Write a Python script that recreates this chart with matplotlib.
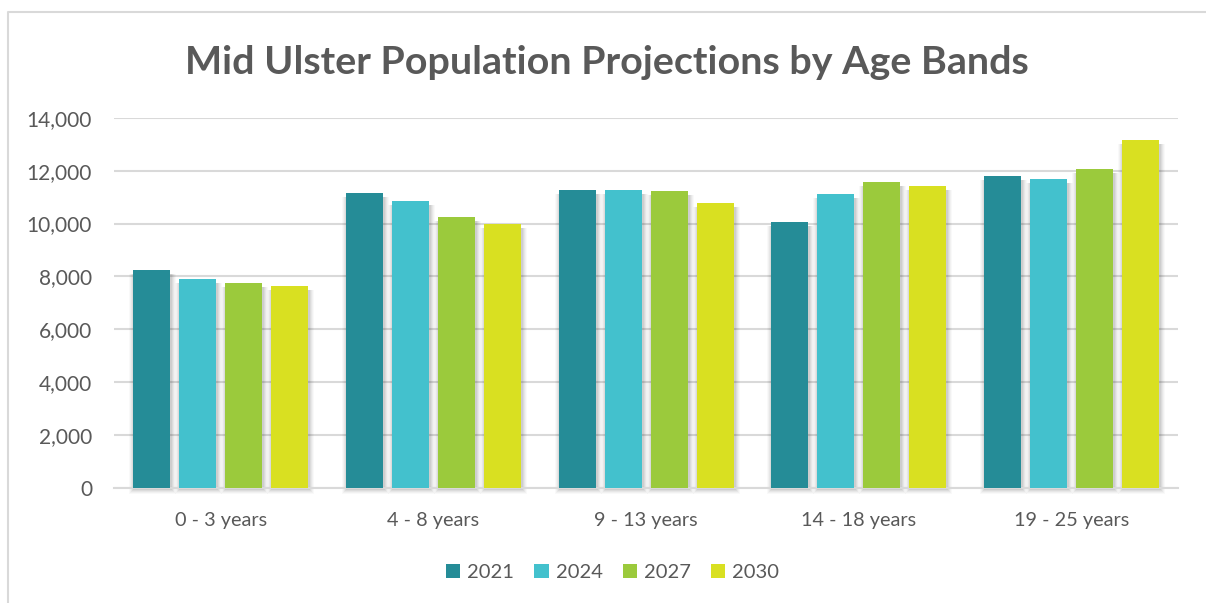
import numpy as np
import matplotlib
matplotlib.use("Agg")
import matplotlib.pyplot as plt
from matplotlib.patches import Patch
from matplotlib.lines import Line2D
from matplotlib.ticker import FuncFormatter

plt.rcParams['font.family'] = ['Lato', 'DejaVu Sans']

# data
age_bands = ["0 - 3 years", "4 - 8 years", "9 - 13 years", "14 - 18 years", "19 - 25 years"]
years = ["2021", "2024", "2027", "2030"]
pop_2021 = [8250, 11140, 11280, 10070, 11780]
pop_2024 = [7900, 10850, 11280, 11100, 11690]
pop_2027 = [7750, 10250, 11220, 11570, 12070]
pop_2030 = [7650, 9990, 10790, 11430, 13160]
series = [pop_2021, pop_2024, pop_2027, pop_2030]
colors = ["#258C97", "#43C1CD", "#9BCA3C", "#D9E021"]

text_col = "#595959"
grid_col = "#D9D9D9"

fig = plt.figure(figsize=(12.06, 6.03), dpi=100)
ax = fig.add_axes([0.0948, 0.1907, 0.8820, 0.6141])

x = np.arange(len(age_bands))
pitch = 0.2164
width = 0.174
px_x = 1 / 212.6      # one pixel in data units along x
px_y = 14000 / 370.3  # one pixel in data units along y

for i, (vals, c) in enumerate(zip(series, colors)):
    pos = x + (i - 1.5) * pitch
    # soft drop shadow, layered
    for k, a in [(5, 0.025), (4, 0.03), (3, 0.04), (2, 0.05), (1, 0.06)]:
        ax.bar(pos + 1 * px_x, np.array(vals) + (k - 3) * px_y, width=width + 2 * k * px_x,
               bottom=-(1 + k) * px_y, color="#000000", alpha=a, linewidth=0,
               zorder=2, clip_on=False)
    ax.bar(pos, vals, width=width, color=c, linewidth=0, zorder=3)

ax.set_xlim(-0.5, len(age_bands) - 0.5)
ax.set_ylim(0, 14000)
ax.set_yticks(np.arange(0, 14001, 2000))
ax.yaxis.set_major_formatter(FuncFormatter(lambda v, p: f"{int(v):,}"))
ax.set_xticks(x)
ax.set_xticklabels(age_bands)
ax.grid(axis="y", color=grid_col, linewidth=1.5, zorder=0)
ax.set_axisbelow(True)
for s in ["top", "right", "left"]:
    ax.spines[s].set_visible(False)
ax.spines["bottom"].set_color(grid_col)
ax.spines["bottom"].set_linewidth(1.5)
ax.tick_params(axis="y", length=0, pad=16, labelsize=15, labelcolor=text_col)
ax.tick_params(axis="x", length=0, pad=17, labelsize=14.3, labelcolor=text_col)

fig.suptitle("Mid Ulster Population Projections by Age Bands", x=0.503, y=0.897,
             fontsize=28.4, fontweight="bold", color=text_col, va="center")

handles = [Patch(facecolor=c, edgecolor="none") for c in colors]
fig.legend(handles, years, loc="center", bbox_to_anchor=(0.508, 0.051), ncol=4,
           frameon=False, fontsize=14.5, labelcolor=text_col,
           handlelength=0.7, handleheight=0.7, handletextpad=0.35, columnspacing=1.0)

# chart border (only the top and left edges are inside the crop)
fig.add_artist(Line2D([8 / 1206, 8 / 1206, 1.0], [0.0, 1 - 12 / 603, 1 - 12 / 603],
                      transform=fig.transFigure, color=grid_col, linewidth=1.5))

fig.savefig("out.png", dpi=100)
